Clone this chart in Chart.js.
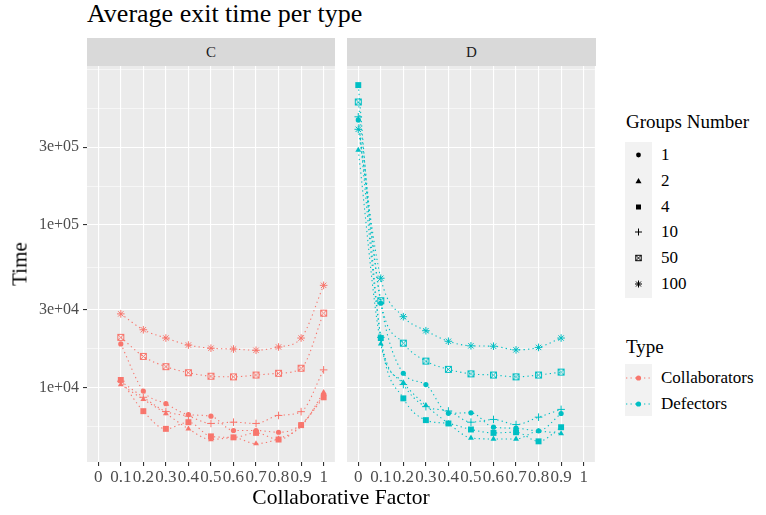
<!DOCTYPE html>
<html lang="en">
<head>
<meta charset="UTF-8">
<title>Average exit time per type</title>
<script src="https://cdn.jsdelivr.net/npm/chart.js"></script>
<style>
  body { margin: 0; width: 766px; height: 515px; background: #fff; position: relative; overflow: hidden;
         font-family: "Liberation Serif", serif; color: #000; }
  .abs { position: absolute; white-space: nowrap; }
  #title { left: 87px; top: -1px; font-size: 26px; }
  .strip { top: 38px; height: 28px; line-height: 28px; background: #d9d9d9; color: #1a1a1a;
           font-size: 15px; text-align: center; z-index: 2; }
  .panel { top: 38px; height: 452px; }
  #ytitle { left: 20px; top: 264px; font-size: 21px; transform: translate(-50%, -50%) rotate(-90deg); }
  #xtitle { left: 341px; top: 497px; font-size: 21.5px; transform: translate(-50%, -50%); }
  .legtitle { left: 626px; font-size: 19px; transform: translateY(-50%); }
  .keybox { left: 625px; width: 27px; background: #f2f2f2; }
  .leglabel { left: 661px; font-size: 17px; transform: translateY(-50%); }
  .key { left: 625px; width: 27px; height: 14px; transform: translateY(-50%); }
</style>
</head>
<body>
  <div id="title" class="abs">Average exit time per type</div>
  <div class="abs strip" style="left:87px; width:248px;">C</div>
  <div class="abs strip" style="left:347px; width:249px;">D</div>
  <div class="abs panel" style="left:0; width:340px;"><canvas id="chartC"></canvas></div>
  <div class="abs panel" style="left:340px; width:260px;"><canvas id="chartD"></canvas></div>
  <div id="ytitle" class="abs">Time</div>
  <div id="xtitle" class="abs">Collaborative Factor</div>
  <div id="legend"></div>

<script>
// collaborative factor values for each facet
const cFactor = [0.1, 0.2, 0.3, 0.4, 0.5, 0.6, 0.7, 0.8, 0.9, 1];
const dFactor = [0, 0.1, 0.2, 0.3, 0.4, 0.5, 0.6, 0.7, 0.8, 0.9];

const groups = ['1', '2', '4', '10', '50', '100'];
const types = ['Collaborators', 'Defectors'];

// Collaborators (panel C), one array per groups number
const collab1   = [18500, 9490, 7930, 6800, 6640, 5420, 5420, 5290, 5900, 8950];
const collab2   = [10400, 8430, 6900, 5550, 4770, 4900, 4500, 4830, 5750, 9310];
const collab4   = [11100, 7130, 5550, 6100, 4990, 4920, 5240, 4770, 5850, 8680];
const collab10  = [10900, 8680, 7100, 6640, 5990, 6100, 5990, 6710, 7080, 12800];
const collab50  = [20300, 15500, 13400, 12300, 11700, 11600, 11900, 12200, 13100, 28600];
const collab100 = [28300, 22600, 20100, 18200, 17400, 17200, 16900, 17700, 20100, 42400];

// Defectors (panel D)
const defect1   = [442000, 32900, 12200, 10400, 6920, 6970, 5680, 5600, 5400, 6900];
const defect2   = [288000, 18500, 10700, 7740, 6000, 4880, 4810, 4810, 5360, 5190];
const defect4   = [724000, 20100, 8550, 6280, 5990, 5500, 5240, 5290, 4650, 5680];
const defect10  = [462000, 20300, 10400, 7600, 7150, 6100, 6340, 5900, 6550, 7310];
const defect50  = [570000, 34100, 18700, 14500, 12900, 12100, 11900, 11600, 11900, 12400];
const defect100 = [387000, 46900, 27200, 22300, 19200, 18000, 17900, 17000, 17600, 20100];

// axis ticks
const xTicks = [0, 0.1, 0.2, 0.3, 0.4, 0.5, 0.6, 0.7, 0.8, 0.9, 1];
const xTickLabels = ['0', '0.1', '0.2', '0.3', '0.4', '0.5', '0.6', '0.7', '0.8', '0.9', '1'];
const yTicks = [1e4, 3e4, 1e5, 3e5];
const yTickLabels = ['1e+04', '3e+04', '1e+05', '3e+05'];
const yMinorTicks = [5774, 17321, 54772, 173205, 519615, 900000];

const colors = { Collaborators: '#F8766D', Defectors: '#00BFC4' };
const shapes = ['circle', 'triangle', 'rect', 'cross', 'squareX', 'star'];

function squareX(color) {
    const c = document.createElement('canvas');
    c.width = 9; c.height = 9;
    const g = c.getContext('2d');
    g.strokeStyle = color;
    g.lineWidth = 1;
    g.strokeRect(1.5, 1.5, 6, 6);
    g.beginPath();
    g.moveTo(1.5, 1.5); g.lineTo(7.5, 7.5);
    g.moveTo(7.5, 1.5); g.lineTo(1.5, 7.5);
    g.stroke();
    return c;
}

function pointOpts(shape, color) {
    switch (shape) {
        case 'circle':   return { pointStyle: 'circle', pointRadius: 2.6, pointBorderWidth: 0 };
        case 'triangle': return { pointStyle: 'triangle', pointRadius: 3.4, pointBorderWidth: 0 };
        case 'rect':     return { pointStyle: 'rect', pointRadius: 4.2, pointBorderWidth: 0 };
        case 'cross':    return { pointStyle: 'cross', pointRadius: 3.8, pointBorderWidth: 1 };
        case 'squareX':  return { pointStyle: squareX(color), pointRadius: 4 };
        default:         return { pointStyle: 'star', pointRadius: 3.8, pointBorderWidth: 1 };
    }
}

function makeDatasets(factor, series, color) {
    return series.map((vals, i) => Object.assign({
        label: groups[i],
        data: factor.map((x, j) => ({ x: x, y: vals[j] })),
        borderColor: color,
        backgroundColor: color,
        pointBackgroundColor: color,
        pointBorderColor: color,
        borderWidth: 1.1,
        borderDash: [1.3, 3.2],
        cubicInterpolationMode: 'monotone',
        fill: false
    }, pointOpts(shapes[i], color)));
}

const isMajorY = v => yTicks.some(t => Math.abs(t - v) / t < 1e-6);

const panelBg = {
    id: 'panelBg',
    beforeDraw(chart) {
        const a = chart.chartArea, ctx = chart.ctx;
        ctx.save();
        ctx.fillStyle = '#ebebeb';
        ctx.fillRect(a.left, a.top, a.right - a.left, a.bottom - a.top);
        ctx.restore();
    }
};

function makeChart(id, datasets, showY, pad) {
    const ctx = document.getElementById(id).getContext('2d');
    return new Chart(ctx, {
        type: 'line',
        data: { datasets: datasets },
        plugins: [panelBg],
        options: {
            responsive: true,
            maintainAspectRatio: false,
            animation: false,
            events: [],
            layout: { padding: pad },
            plugins: { legend: { display: false }, tooltip: { enabled: false } },
            scales: {
                x: {
                    type: 'linear',
                    min: -0.05,
                    max: 1.05,
                    afterBuildTicks: s => { s.ticks = xTicks.map(v => ({ value: v })); },
                    afterFit: s => { s.height = 28; },
                    ticks: {
                        autoSkip: false, maxRotation: 0, minRotation: 0,
                        color: '#4d4d4d', font: { size: 17 }, padding: 1,
                        callback: v => xTickLabels[xTicks.findIndex(t => Math.abs(t - v) < 1e-9)]
                    },
                    grid: { color: '#ffffff', lineWidth: 1.1, tickColor: '#333333', tickLength: 4 },
                    border: { display: false }
                },
                y: {
                    type: 'logarithmic',
                    min: 3470,
                    max: 949000,
                    afterBuildTicks: s => { s.ticks = yTicks.concat(yMinorTicks).map(v => ({ value: v })); },
                    afterFit: s => { s.width = showY ? 87 : 0; },
                    ticks: {
                        display: showY, autoSkip: false,
                        color: '#4d4d4d', font: { size: 16 }, padding: 4,
                        callback: v => {
                            const i = yTicks.findIndex(t => Math.abs(t - v) / t < 1e-6);
                            return i < 0 ? '' : yTickLabels[i];
                        }
                    },
                    grid: {
                        color: '#ffffff',
                        lineWidth: c => (c.tick && !isMajorY(c.tick.value)) ? 0.55 : 1.1,
                        tickColor: c => (c.tick && !isMajorY(c.tick.value)) ? 'rgba(0,0,0,0)' : '#333333',
                        tickLength: 4,
                        drawTicks: showY
                    },
                    border: { display: false }
                }
            }
        }
    });
}

Chart.defaults.font.family = '"Liberation Serif", serif';

makeChart('chartC',
    makeDatasets(cFactor, [collab1, collab2, collab4, collab10, collab50, collab100], colors.Collaborators),
    true, { top: 28, right: 5, left: 0, bottom: 0 });
makeChart('chartD',
    makeDatasets(dFactor, [defect1, defect2, defect4, defect10, defect50, defect100], colors.Defectors),
    false, { top: 28, right: 4, left: 7, bottom: 0 });

// legends
function shapeSvg(shape, color) {
    let s = '';
    if (shape === 'circle') s = `<circle cx="7" cy="7" r="2.4" fill="${color}"/>`;
    else if (shape === 'triangle') s = `<polygon points="7,4 10,9.3 4,9.3" fill="${color}"/>`;
    else if (shape === 'rect') s = `<rect x="4.5" y="4.5" width="5" height="5" fill="${color}"/>`;
    else if (shape === 'cross') s = `<path d="M7 3.5V10.5M3.5 7H10.5" stroke="${color}" stroke-width="1"/>`;
    else if (shape === 'squareX') s = `<rect x="4.3" y="4.3" width="5.4" height="5.4" fill="none" stroke="${color}" stroke-width="1"/><path d="M4.3 4.3L9.7 9.7M9.7 4.3L4.3 9.7" stroke="${color}" stroke-width="0.9"/>`;
    else s = `<path d="M7 3.5V10.5M3.5 7H10.5M4.5 4.5L9.5 9.5M9.5 4.5L4.5 9.5" stroke="${color}" stroke-width="1"/>`;
    return `<svg width="27" height="14" viewBox="-6.5 0 27 14">${s}</svg>`;
}

let html = '';
html += '<div class="abs legtitle" style="top:122px;">Groups Number</div>';
html += '<div class="abs keybox" style="top:142px; height:156px;"></div>';
groups.forEach((g, i) => {
    const cy = 155 + i * 25.8;
    html += `<div class="abs key" style="top:${cy}px;">${shapeSvg(shapes[i], '#000')}</div>`;
    html += `<div class="abs leglabel" style="top:${cy}px;">${g}</div>`;
});
html += '<div class="abs legtitle" style="top:347px;">Type</div>';
html += '<div class="abs keybox" style="top:364px; height:52px;"></div>';
types.forEach((t, i) => {
    const cy = 378 + i * 26;
    const c = colors[t];
    html += `<div class="abs key" style="top:${cy}px;"><svg width="27" height="14">` +
        `<line x1="1" y1="7" x2="26" y2="7" stroke="${c}" stroke-width="1.1" stroke-dasharray="1.3 3.2"/>` +
        `<circle cx="13.5" cy="7" r="2.6" fill="${c}"/></svg></div>`;
    html += `<div class="abs leglabel" style="top:${cy}px;">${t}</div>`;
});
document.getElementById('legend').innerHTML = html;
</script>
</body>
</html>
